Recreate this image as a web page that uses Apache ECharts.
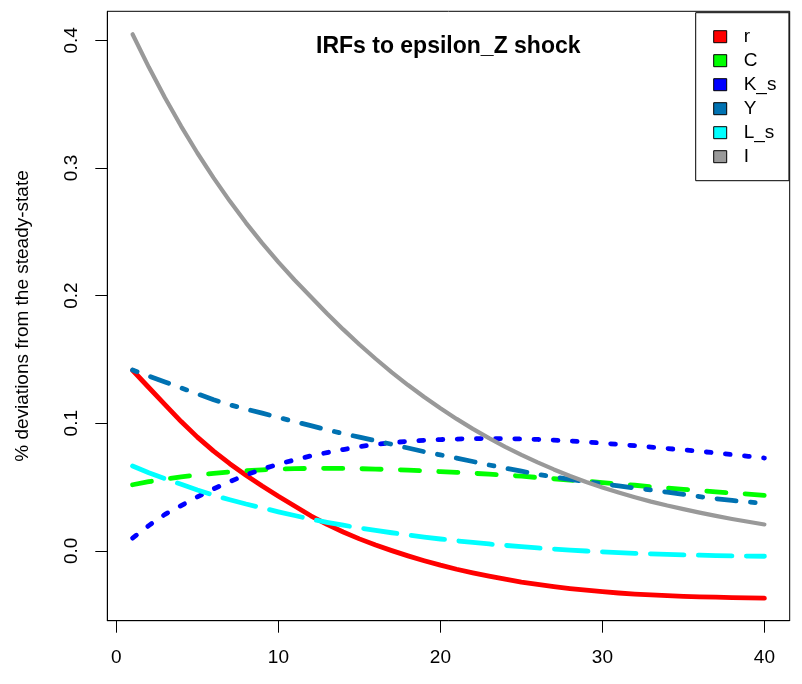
<!DOCTYPE html>
<html>
<head>
<meta charset="utf-8">
<script src="https://cdn.jsdelivr.net/npm/echarts@6/dist/echarts.min.js"></script>
<style>
html,body{margin:0;padding:0;background:#fff;}
#chart{width:802px;height:684px;}
</style>
</head>
<body>
<div id="chart"></div>
<script>
const periods = [1,2,3,4,5,6,7,8,9,10,11,12,13,14,15,16,17,18,19,20,21,22,23,24,25,26,27,28,29,30,31,32,33,34,35,36,37,38,39,40];
const seriesNames = ['r','C','K_s','Y','L_s','I'];
const xTicks = [0,10,20,30,40];
const yTicks = [0,0.1,0.2,0.3,0.4];
const titleText = 'IRFs to epsilon_Z shock';
const yName = '% deviations from the steady-state';

const r   = [0.1415,0.1280,0.1145,0.1013,0.0891,0.0781,0.0683,0.0593,0.0508,0.0428,0.0352,0.0275,0.0208,0.0148,0.0094,0.0046,0.0002,-0.0039,-0.0077,-0.0112,-0.0144,-0.0172,-0.0198,-0.0222,-0.0244,-0.0263,-0.0280,-0.0295,-0.0308,-0.0320,-0.0330,-0.0338,-0.0345,-0.0351,-0.0356,-0.0360,-0.0363,-0.0366,-0.0368,-0.0370];
const C   = [0.0518,0.0542,0.0562,0.0579,0.0594,0.0607,0.0618,0.0628,0.0635,0.0641,0.0644,0.0646,0.0647,0.0646,0.0644,0.0641,0.0637,0.0632,0.0627,0.0621,0.0615,0.0608,0.0601,0.0594,0.0585,0.0575,0.0565,0.0555,0.0545,0.0535,0.0525,0.0514,0.0503,0.0492,0.0482,0.0472,0.0463,0.0453,0.0444,0.0435];
const K_s = [0.0100,0.0198,0.0286,0.0355,0.0423,0.0486,0.0543,0.0595,0.0640,0.0679,0.0713,0.0744,0.0770,0.0794,0.0816,0.0834,0.0848,0.0858,0.0866,0.0872,0.0876,0.0879,0.0880,0.0879,0.0877,0.0873,0.0868,0.0861,0.0853,0.0844,0.0834,0.0824,0.0813,0.0802,0.0791,0.0780,0.0767,0.0754,0.0741,0.0727];
const Y   = [0.1417,0.1370,0.1323,0.1277,0.1230,0.1184,0.1145,0.1111,0.1079,0.1046,0.1013,0.0981,0.0949,0.0919,0.0891,0.0863,0.0835,0.0806,0.0777,0.0752,0.0727,0.0700,0.0673,0.0648,0.0624,0.0600,0.0579,0.0561,0.0543,0.0526,0.0509,0.0493,0.0477,0.0460,0.0443,0.0425,0.0409,0.0395,0.0383,0.0370];
const L_s = [0.0665,0.0612,0.0565,0.0522,0.0477,0.0436,0.0400,0.0367,0.0337,0.0306,0.0277,0.0249,0.0224,0.0201,0.0180,0.0160,0.0142,0.0124,0.0108,0.0093,0.0079,0.0066,0.0054,0.0043,0.0033,0.0023,0.0014,0.0006,-0.0001,-0.0008,-0.0014,-0.0019,-0.0024,-0.0028,-0.0031,-0.0034,-0.0037,-0.0039,-0.0041,-0.0042];
const I   = [0.4047,0.3790,0.3550,0.3326,0.3117,0.2922,0.2740,0.2570,0.2411,0.2262,0.2122,0.1991,0.1860,0.1735,0.1617,0.1505,0.1399,0.1299,0.1205,0.1117,0.1034,0.0956,0.0883,0.0815,0.0752,0.0693,0.0638,0.0587,0.0540,0.0497,0.0457,0.0420,0.0386,0.0355,0.0327,0.0300,0.0274,0.0250,0.0228,0.0207];

const valuesList = [r, C, K_s, Y, L_s, I];
const colors = ['#FF0000','#00FF00','#0000FF','#0072B2','#00FFFF','#999999'];
const lw = 4.8;
const dashes = ['solid',[19.2,19.2],[4.8,14.4],[4.8,14.4,19.2,14.4],[33.6,14.4],'solid'];
const widths = [lw, lw, lw, lw, lw, 4.2];

const FONT = '"Liberation Sans", Arial, sans-serif';

const chart = echarts.init(document.getElementById('chart'), null, {renderer:'canvas'});

const series = seriesNames.map((n, k) => ({
  name: n,
  type: 'line',
  data: periods.map((p, i) => [p, valuesList[k][i]]),
  symbol: 'none',
  showSymbol: false,
  smooth: false,
  silent: true,
  color: colors[k],
  itemStyle: {color: colors[k]},
  lineStyle: {color: colors[k], width: widths[k], type: dashes[k], cap: 'round', join: 'round'},
  z: 2 + k
}));

chart.setOption({
  animation: false,
  backgroundColor: '#ffffff',
  title: {
    text: titleText,
    left: 316,
    top: 35.5,
    padding: 0,
    textStyle: {fontFamily: FONT, fontSize: 23, fontWeight: 'bold', color: '#000', lineHeight: 23}
  },
  grid: {
    left: 107.3, right: 12.3, top: 11.3, bottom: 63.3,
    show: true, borderColor: '#000', borderWidth: 1, backgroundColor: 'transparent',
    containLabel: false
  },
  legend: {
    data: seriesNames,
    orient: 'vertical',
    left: 695.7,
    top: 12.7,
    padding: [12, 12.5, 12, 17.5],
    itemGap: 0,
    itemWidth: 13,
    itemHeight: 12,
    icon: 'rect',
    selectedMode: false,
    borderColor: '#000',
    borderWidth: 1,
    backgroundColor: '#fff',
    itemStyle: {borderColor: '#000', borderWidth: 1, borderType: 'solid'},
    textStyle: {fontFamily: FONT, fontSize: 19, color: '#000', lineHeight: 24, padding: [0,0,0,12]}
  },
  xAxis: {
    type: 'value',
    min: -0.56, max: 41.56,
    splitLine: {show: false},
    axisLine: {show: true, onZero: false, lineStyle: {color: '#000', width: 1}},
    axisTick: {show: true, customValues: xTicks, length: 12, lineStyle: {color: '#000', width: 1}},
    axisLabel: {show: true, customValues: xTicks, margin: 28, fontFamily: FONT, fontSize: 19, color: '#000', lineHeight: 19,
      formatter: v => String(v)}
  },
  yAxis: {
    type: 'value',
    min: -0.0547, max: 0.4227,
    name: yName,
    nameLocation: 'middle',
    nameRotate: 90,
    nameGap: 75,
    nameTextStyle: {fontFamily: FONT, fontSize: 19, color: '#000', lineHeight: 19},
    splitLine: {show: false},
    axisLine: {show: true, onZero: false, lineStyle: {color: '#000', width: 1}},
    axisTick: {show: true, customValues: yTicks, length: 12, lineStyle: {color: '#000', width: 1}},
    axisLabel: {show: true, customValues: yTicks, rotate: 90, margin: 26, fontFamily: FONT, fontSize: 19, color: '#000', lineHeight: 19,
      formatter: v => v.toFixed(1)}
  },
  series: series
});
</script>
</body>
</html>
